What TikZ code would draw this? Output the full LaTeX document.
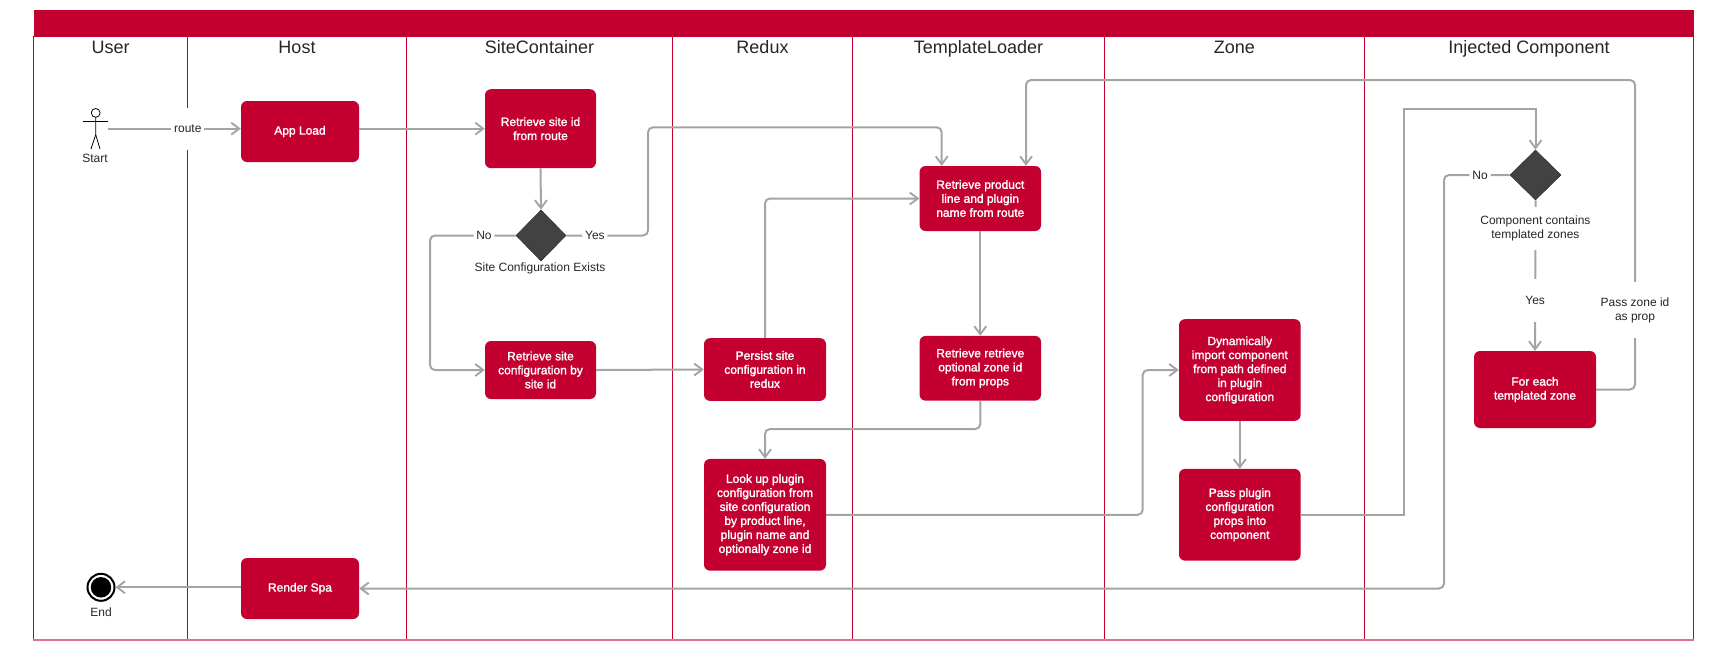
\documentclass[tikz,border=0pt]{standalone}
\usepackage{fontspec}
\setmainfont{Liberation Sans}
\newfontfamily\boxfont[FakeBold=1.6]{Liberation Sans}
\usetikzlibrary{arrows.meta, shapes.geometric}
\definecolor{crimson}{HTML}{C3002F}
\definecolor{slate}{HTML}{424242}
\definecolor{wire}{HTML}{A4A4A4}

\begin{document}
\begin{tikzpicture}[x=1pt, y=-1pt]

\tikzset{lane/.style = {draw=crimson, line width=1pt}}
\tikzset{title/.style = {font=\fontsize{18}{21}\selectfont, text=black!85, inner sep=0pt, anchor=base}}
\tikzset{action/.style = {shape=rectangle, fill=crimson, rounded corners=6pt, inner sep=0pt, align=center, text=white, font=\boxfont\fontsize{12}{14}\selectfont}}
\tikzset{decision/.style = {shape=diamond, draw=black!80, fill=slate, inner sep=0pt, line width=.6pt}}
\tikzset{caption/.style = {font=\fontsize{12}{14}\selectfont, text=black!85, align=center, inner sep=0pt}}
\tikzset{tag/.style = {caption, fill=white, inner xsep=3pt}}
\tikzset{wireline/.style = {draw=wire, line width=2pt, -{Straight Barb[length=8pt,width=12pt,line width=1.9pt]}}}
\tikzset{routed/.style = {wireline, rounded corners=5pt}}

\useasboundingbox (0,0) rectangle (1715,659);

%lanes
\node [fill=crimson, minimum width=1660pt, minimum height=27pt, inner sep=0pt] (header) at (863.5,23) {};
\draw [lane] (33.5,36) -- (33.5,640);
\draw [lane] (187.5,36) -- (187.5,640);
\draw [lane] (406.5,36) -- (406.5,640);
\draw [lane] (672.5,36) -- (672.5,640);
\draw [lane] (852.5,36) -- (852.5,640);
\draw [lane] (1104.5,36) -- (1104.5,640);
\draw [lane] (1364.5,36) -- (1364.5,640);
\draw [lane] (1693.5,36) -- (1693.5,640);
\draw [draw=crimson!55, line width=1.4pt] (33,640) -- (1694,640);

\node [title] (userlane) at (110.6,53.8) {User};
\node [title] (hostlane) at (297,53.8) {Host};
\node [title] (sitelane) at (539.5,53.8) {SiteContainer};
\node [title] (reduxlane) at (762.5,53.8) {Redux};
\node [title] (loaderlane) at (978.5,53.8) {TemplateLoader};
\node [title] (zonelane) at (1234.4,53.8) {Zone};
\node [title] (injectlane) at (1529,53.8) {Injected Component};

%start and end
\node [minimum width=25pt, minimum height=41pt, inner sep=0pt] (user) at (95.5,128.7) {};
\begin{scope}[shift={(user.center)}, line width=.8pt]
\draw (0.2,-15.8) circle (4.4pt);
\draw (-12.5,-7.7) -- (12.5,-7.7);
\draw (0.2,-11.4) -- (0.2,6) -- (-4.5,20.3);
\draw (0.2,6) -- (4.5,20.3);
\end{scope}
\node [caption] (startlabel) at (95,158) {Start};
\node [shape=circle, draw=black, fill=white, line width=2pt, minimum size=27pt, inner sep=0pt] (finish) at (101,587.3) {};
\node [shape=circle, fill=black, minimum size=20.5pt, inner sep=0pt] (finishdot) at (finish) {};
\node [caption] (endlabel) at (101,612) {End};

%actions
\node [action, minimum width=118pt, minimum height=61pt] (load) at (300,131.5) {App Load};
\node [action, minimum width=111pt, minimum height=79pt] (site) at (540.5,128.7) {Retrieve site id\\from route};
\node [decision, minimum width=50pt, minimum height=51pt] (exists) at (541,235.5) {};
\node [caption] (existslabel) at (540,268.7) {Site Configuration Exists};
\node [action, minimum width=111pt, minimum height=58pt] (config) at (540.5,370) {Retrieve site\\configuration by\\site id};
\node [action, minimum width=122pt, minimum height=62.7pt] (persist) at (765,369.5) {Persist site\\configuration in\\redux};
\node [action, minimum width=122pt, minimum height=111.7pt] (lookup) at (765,514.8) {Look up plugin\\configuration from\\site configuration\\by product line,\\plugin name and\\optionally zone id};
\node [action, minimum width=121.5pt, minimum height=65pt] (product) at (980.3,198.5) {Retrieve product\\line and plugin\\name from route};
\node [action, minimum width=121.5pt, minimum height=64.7pt] (props) at (980.3,368.3) {Retrieve retrieve\\optional zone id\\from props};
\node [action, minimum width=121.6pt, minimum height=101.7pt] (dynamic) at (1239.8,370) {Dynamically\\import component\\from path defined\\in plugin\\configuration};
\node [action, minimum width=121.6pt, minimum height=91.7pt] (pass) at (1239.8,514.8) {Pass plugin\\configuration\\props into\\component};
\node [decision, minimum width=51pt, minimum height=50pt] (contains) at (1535.5,175) {};
\node [action, minimum width=122pt, minimum height=77pt] (each) at (1535,389.5) {For each\\templated zone};
\node [action, minimum width=118pt, minimum height=61pt] (spa) at (300,588.5) {Render Spa};

%edges
\draw [wireline] (user.east) -- node [tag, pos=.6, minimum height=42pt] (route) {route} (load.west |- user.east);
\draw [wireline] (load.east |- site.west) -- (site.west);
\draw [wireline] (site.south) -- (exists.north);
\draw [routed] (exists.west) -- node [tag, pos=.37] (no1) {No} (430,235.5) |- (config.west);
\draw [routed] (exists.east) -- node [tag, pos=.35] (yes1) {Yes} (648,235.5) -- (648,127.3) -- (941.7,127.3) -- ([xshift=-38.6pt]product.north);
\draw [wireline] (config.east) -- (persist.west);
\draw [routed] (persist.north) |- (product.west);
\draw [wireline] (product.south) -- (props.north);
\draw [routed] (props.south) -- (980.3,429) -- (765,429) -- (lookup.north);
\draw [routed] (lookup.east) -- (1142.7,514.8) |- (dynamic.west);
\draw [wireline] (dynamic.south) -- (pass.north);
\draw [wireline] (pass.east) -- (1403.7,514.8) -- (1403.7,109.3) -| (contains.north);
\draw [routed] (contains.west) -- node [tag, pos=.45] (no2) {No} (1444,175) |- (spa.east);
\draw [wireline] (contains.south) -- node [tag, pos=.189, minimum height=43pt] (containslabel) {Component contains\\templated zones} node [tag, pos=.666, minimum height=43pt] (yes2) {Yes} (each.north);
\draw [routed] (each.east) -- (1635,389.5) -- node [tag, pos=.257, minimum height=56pt] (zoneprop) {Pass zone id\\as prop} (1635,80) -- (1026,80) -- ([xshift=45.7pt]product.north);
\draw [wireline] (spa.west |- finish.east) -- (finish.east);

\end{tikzpicture}
\end{document}
